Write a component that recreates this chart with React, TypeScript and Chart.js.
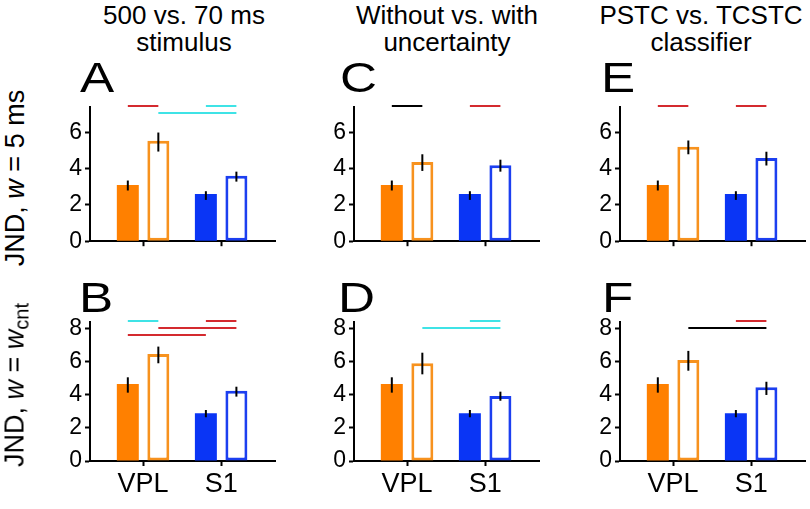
import React, { useEffect, useRef } from 'react';
import { Chart, registerables } from 'chart.js';

Chart.register(...registerables);

const FONT = "'Liberation Sans', Arial, Helvetica, sans-serif";

// ---------- data ----------
const categories = ['VPL', 'S1'];
const categoryX = [1, 2];
const topTicks = [0, 2, 4, 6];
const bottomTicks = [0, 2, 4, 6, 8];

// filled bars (shared reference condition)
const topFilled = [3.1, 2.6];
const topFilledLo = [2.8, 2.28];
const topFilledHi = [3.35, 2.76];
const bottomFilled = [4.67, 2.89];
const bottomFilledLo = [4.14, 2.65];
const bottomFilledHi = [5.07, 3.09];

// open bars per panel
const aOpen = [5.55, 3.61];
const aOpenLo = [4.95, 3.29];
const aOpenHi = [6.0, 3.84];
const cOpen = [4.37, 4.2];
const cOpenLo = [3.88, 3.84];
const cOpenHi = [4.8, 4.5];
const eOpen = [5.21, 4.59];
const eOpenLo = [4.8, 4.18];
const eOpenHi = [5.56, 4.94];
const bOpen = [6.48, 4.26];
const bOpenLo = [5.92, 3.9];
const bOpenHi = [6.93, 4.5];
const dOpen = [5.92, 3.94];
const dOpenLo = [5.25, 3.65];
const dOpenHi = [6.56, 4.2];
const fOpen = [6.12, 4.47];
const fOpenLo = [5.47, 4.0];
const fOpenHi = [6.67, 4.8];

// significance lines: [fromBar, toBar, level, colour]  (bars: 0 VPL filled, 1 VPL open, 2 S1 filled, 3 S1 open)
type Sig = [number, number, number, string];
const RED = '#d42a2f';
const CYAN = '#3fe3e6';
const BLACK = '#000000';
const aSig: Sig[] = [[0, 1, 7.47, RED], [1, 3, 7.09, CYAN], [2, 3, 7.47, CYAN]];
const cSig: Sig[] = [[0, 1, 7.47, BLACK], [2, 3, 7.47, RED]];
const eSig: Sig[] = [[0, 1, 7.47, RED], [2, 3, 7.47, RED]];
const bSig: Sig[] = [[0, 1, 8.5, CYAN], [2, 3, 8.5, RED], [1, 3, 8.04, RED], [0, 2, 7.65, RED]];
const dSig: Sig[] = [[1, 3, 8.04, CYAN], [2, 3, 8.5, CYAN]];
const fSig: Sig[] = [[1, 3, 8.04, BLACK], [2, 3, 8.5, RED]];

const FILL_COLORS = ['#ff8000', '#0a35f5'];
const OPEN_COLORS = ['#f7921e', '#1c3ff0'];

const overlayPlugin = {
  id: 'overlay',
  afterDatasetsDraw(chart: any) {
    const ctx = chart.ctx;
    const y = chart.scales.y;
    ctx.save();
    // error bars
    chart.data.datasets.forEach((ds: any, d: number) => {
      const meta = chart.getDatasetMeta(d);
      meta.data.forEach((el: any, i: number) => {
        ctx.beginPath();
        ctx.strokeStyle = '#000';
        ctx.lineWidth = 2;
        ctx.moveTo(el.x, y.getPixelForValue(ds.lo[i]));
        ctx.lineTo(el.x, y.getPixelForValue(ds.hi[i]));
        ctx.stroke();
      });
    });
    // significance lines
    const sig: Sig[] = chart.options.plugins.overlay.sig;
    const barX = (b: number) => chart.getDatasetMeta(b % 2).data[Math.floor(b / 2)].x;
    sig.forEach(([a, b, lvl, col]) => {
      const py = Math.round(y.getPixelForValue(lvl));
      ctx.beginPath();
      ctx.strokeStyle = col;
      ctx.lineWidth = 2;
      ctx.moveTo(barX(a), py);
      ctx.lineTo(barX(b), py);
      ctx.stroke();
    });
    ctx.restore();
  },
};

type PanelProps = {
  left: number; top: number; width: number; height: number;
  padTop: number; xAxisH: number; yMax: number; yTicks: number[]; showLabels: boolean;
  filled: number[]; filledLo: number[]; filledHi: number[];
  open: number[]; openLo: number[]; openHi: number[]; sig: Sig[];
};

function Panel(p: PanelProps) {
  const ref = useRef<HTMLCanvasElement>(null);
  useEffect(() => {
    const chart = new Chart(ref.current as HTMLCanvasElement, {
      type: 'bar',
      data: {
        datasets: [
          {
            data: categoryX.map((x, i) => ({ x, y: p.filled[i] })),
            backgroundColor: FILL_COLORS,
            borderWidth: 0,
            lo: p.filledLo,
            hi: p.filledHi,
          } as any,
          {
            data: categoryX.map((x, i) => ({ x, y: p.open[i] })),
            backgroundColor: '#ffffff',
            borderColor: OPEN_COLORS,
            borderWidth: 3,
            borderSkipped: false,
            lo: p.openLo,
            hi: p.openHi,
          } as any,
        ],
      },
      options: {
        animation: false,
        responsive: false,
        maintainAspectRatio: false,
        categoryPercentage: 0.782,
        barPercentage: 0.72,
        layout: { padding: { top: p.padTop, right: 6, left: 0, bottom: 0 } },
        plugins: {
          legend: { display: false },
          tooltip: { enabled: false },
          title: { display: false },
          overlay: { sig: p.sig },
        } as any,
        scales: {
          x: {
            type: 'linear',
            min: 0.32,
            max: 2.69,
            offset: false,
            afterBuildTicks: (s: any) => { s.ticks = categoryX.map((v) => ({ value: v })); },
            afterFit: (s: any) => { s.height = p.xAxisH; },
            grid: { display: true, offset: false, drawOnChartArea: false, drawTicks: true, tickLength: 5, tickWidth: 2, tickColor: '#000' },
            border: { display: true, color: '#000', width: 2 },
            ticks: {
              autoSkip: false,
              maxRotation: 0,
              padding: 2,
              color: '#000',
              font: { family: FONT, size: 27 },
              callback: (v: any) => (p.showLabels ? categories[categoryX.indexOf(Number(v))] : ''),
            },
          },
          y: {
            type: 'linear',
            min: 0,
            max: p.yMax,
            afterBuildTicks: (s: any) => { s.ticks = p.yTicks.map((v) => ({ value: v })); },
            afterFit: (s: any) => { s.width = 60; },
            grid: { display: true, drawOnChartArea: false, drawTicks: true, tickLength: 5, tickWidth: 2, tickColor: '#000' },
            border: { display: true, color: '#000', width: 2 },
            ticks: { padding: 3, color: '#000', font: { family: FONT, size: 23 } },
          },
        },
      } as any,
      plugins: [overlayPlugin],
    });
    return () => chart.destroy();
  }, []);
  return (
    <canvas
      ref={ref}
      width={p.width}
      height={p.height}
      style={{ position: 'absolute', left: p.left, top: p.top, width: p.width, height: p.height }}
    />
  );
}

const AXIS_X = [90, 354, 620];
const PLOT_W = 185;

const txt: React.CSSProperties = { position: 'absolute', fontFamily: FONT, color: '#000', whiteSpace: 'nowrap' };

export default function App() {
  const topRow = { top: 87, padTop: 20, xAxisH: 12, height: 20 + 139 + 12, yMax: 7.41, yTicks: topTicks, showLabels: false };
  const botRow = { top: 297, padTop: 25, xAxisH: 46, height: 25 + 139 + 46, yMax: 8.42, yTicks: bottomTicks, showLabels: true };
  const panels = [
    { ...topRow, col: 0, filled: topFilled, filledLo: topFilledLo, filledHi: topFilledHi, open: aOpen, openLo: aOpenLo, openHi: aOpenHi, sig: aSig },
    { ...topRow, col: 1, filled: topFilled, filledLo: topFilledLo, filledHi: topFilledHi, open: cOpen, openLo: cOpenLo, openHi: cOpenHi, sig: cSig },
    { ...topRow, col: 2, filled: topFilled, filledLo: topFilledLo, filledHi: topFilledHi, open: eOpen, openLo: eOpenLo, openHi: eOpenHi, sig: eSig },
    { ...botRow, col: 0, filled: bottomFilled, filledLo: bottomFilledLo, filledHi: bottomFilledHi, open: bOpen, openLo: bOpenLo, openHi: bOpenHi, sig: bSig },
    { ...botRow, col: 1, filled: bottomFilled, filledLo: bottomFilledLo, filledHi: bottomFilledHi, open: dOpen, openLo: dOpenLo, openHi: dOpenHi, sig: dSig },
    { ...botRow, col: 2, filled: bottomFilled, filledLo: bottomFilledLo, filledHi: bottomFilledHi, open: fOpen, openLo: fOpenLo, openHi: fOpenHi, sig: fSig },
  ];
  const titles = [
    { x: 184, lines: ['500 vs. 70 ms', 'stimulus'] },
    { x: 447, lines: ['Without vs. with', 'uncertainty'] },
    { x: 701, lines: ['PSTC vs. TCSTC', 'classifier'] },
  ];
  const letters = [
    { t: 'A', x: 80, y: 57 }, { t: 'C', x: 340, y: 57 }, { t: 'E', x: 601, y: 57 },
    { t: 'B', x: 79, y: 277 }, { t: 'D', x: 338, y: 277 }, { t: 'F', x: 602, y: 277 },
  ];
  return (
    <div style={{ position: 'absolute', left: 0, top: 0, width: 810, height: 509, background: '#fff', overflow: 'hidden' }}>
      {panels.map((p, i) => (
        <Panel
          key={i}
          left={AXIS_X[p.col] - 60}
          top={p.top}
          width={60 + PLOT_W + 6}
          height={p.height}
          padTop={p.padTop}
          xAxisH={p.xAxisH}
          yMax={p.yMax}
          yTicks={p.yTicks}
          showLabels={p.showLabels}
          filled={p.filled}
          filledLo={p.filledLo}
          filledHi={p.filledHi}
          open={p.open}
          openLo={p.openLo}
          openHi={p.openHi}
          sig={p.sig}
        />
      ))}
      {titles.map((t, i) => (
        <div key={i} style={{ ...txt, left: t.x, top: 2, transform: 'translateX(-50%)', textAlign: 'center', fontSize: 26, lineHeight: '27px' }}>
          {t.lines[0]}
          <br />
          {t.lines[1]}
        </div>
      ))}
      {letters.map((l, i) => (
        <div key={i} style={{ ...txt, left: l.x, top: l.y, fontSize: 42, lineHeight: 1, transform: 'scaleX(1.22)', transformOrigin: 'left top' }}>{l.t}</div>
      ))}
      <div style={{ ...txt, left: 15, top: 178, fontSize: 27, lineHeight: 1, transform: 'translate(-50%, -50%) rotate(-90deg)' }}>
        JND, <i>w</i> = 5 ms
      </div>
      <div style={{ ...txt, left: 15, top: 385, fontSize: 27, lineHeight: 1, transform: 'translate(-50%, -50%) rotate(-90deg)' }}>
        JND, <i>w</i> = <i>w</i>
        <sub style={{ fontSize: 20, verticalAlign: 'baseline', position: 'relative', top: 5 }}>cnt</sub>
      </div>
    </div>
  );
}
